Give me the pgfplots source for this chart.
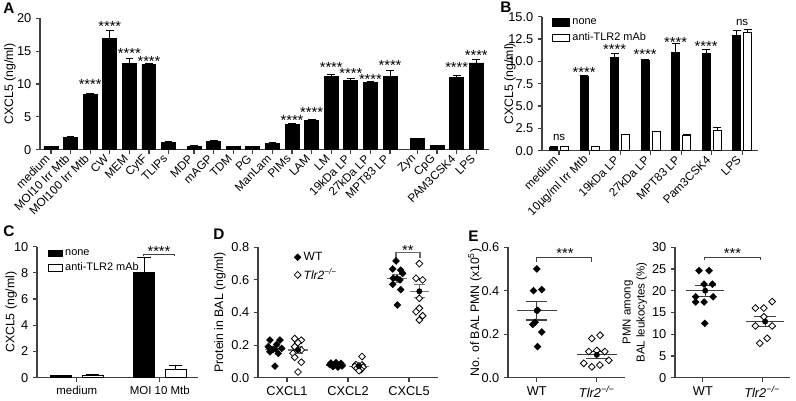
\documentclass[border=0pt]{standalone}
\usepackage{fontspec}
\setmainfont{Liberation Sans}
\usepackage{pgfplots}
\pgfplotsset{compat=1.18}

\definecolor{axgray}{gray}{0.25}
\newcommand{\tlr}{\textit{Tlr2}\textsuperscript{\textit{−/−}}}

\pgfplotsset{
  prism/.style={
    scale only axis, anchor=south west, clip=false,
    axis lines*=left,
    axis line style={-, line width=0.9pt, draw=axgray},
    every tick/.style={line width=0.9pt, draw=axgray},
    tick align=outside, major tick length=3pt,
    /pgf/number format/assume math mode=true,
    ticklabel style={font=\fontsize{9.6}{10}\selectfont, text=black},
    ylabel style={font=\fontsize{9.2}{11}\selectfont, anchor=center},
    legend cell align=left,
  },
  onedec/.style={y tick label style={/pgf/number format/.cd, fixed, fixed zerofill, precision=1, /tikz/.cd}},
  bars/.style={ybar, bar shift=0pt, draw=black, line width=0.7pt,
    error bars/y dir=plus, error bars/y explicit,
    error bars/error bar style={line width=0.7pt, black, solid},
    error bars/error mark options={rotate=90, mark size=#1, line width=0.7pt, black}},
  swB/.style={legend image code/.code={\draw[##1, line width=0.6pt] (0pt,-2.9pt) rectangle (12.75pt,2.9pt);}},
  swC/.style={legend image code/.code={\draw[##1, line width=0.6pt] (0pt,-2.4pt) rectangle (10.5pt,2.4pt);}},
  wt/.style={only marks, mark=square*, mark size=1.8pt, mark options={rotate=45, fill=black, draw=black, line width=0.4pt}},
  ko/.style={only marks, mark=square*, mark size=1.8pt, mark options={rotate=45, fill=white, draw=black, line width=0.6pt}},
  meanln/.style={draw=#1, line width=0.9pt},
  sem/.style 2 args={only marks, mark=none, forget plot,
    error bars/y dir=both, error bars/y explicit,
    error bars/error bar style={line width=0.9pt, #2, solid},
    error bars/error mark options={rotate=90, mark size=#1, line width=0.9pt, #2}},
}
\tikzset{
  sig/.style={font=\fontsize{11}{11}\selectfont, anchor=base, yshift=-6.2pt, inner sep=0pt},
  ns/.style={font=\fontsize{8.6}{9}\selectfont, anchor=base, inner sep=0pt},
  brk/.style={line width=0.8pt, draw=#1},
  plab/.style={font=\fontsize{11.5}{12}\bfseries\selectfont, anchor=base west, inner sep=0pt},
}

\begin{document}
\begin{tikzpicture}
\path[use as bounding box] (0,0) rectangle (597pt,300pt);

% panel letters
\node[plab] at (2.25pt,289.9pt) {A};
\node[plab] at (375pt,290.25pt) {B};
\node[plab] at (2.25pt,122.6pt) {C};
\node[plab] at (159.75pt,120pt) {D};
\node[plab] at (351pt,118.5pt) {E};

% ---------------- A ----------------
\begin{axis}[prism, at={(30pt,187.725pt)}, width=336.75pt, height=98.55pt,
  xmin=-0.56, xmax=22.35, ymin=0, ymax=20, ytick={0,5,...,20},
  xtick={0,1,2,3,4,5,6,7.3,8.3,9.3,10.3,11.3,12.3,13.3,14.3,15.3,16.3,17.3,18.7,19.7,20.7,21.7},
  xticklabels={medium,MOI10 Irr Mtb,MOI100 Irr Mtb,CW,MEM,CytF,TLIPs,MDP,mAGP,TDM,PG,ManLam,PIMs,LAM,LM,19kDa LP,27kDa LP,MPT83 LP,Zyn,CpG,PAM3CSK4,LPS},
  xticklabel style={rotate=45, anchor=east, font=\fontsize{8.8}{9}\selectfont},
  ylabel={CXCL5 (ng/ml)}, ylabel style={at={(axis description cs:-0.067,0.5)}},
  bar width=0.714]
\addplot[fill=black, bars=2.9pt] table[x=x, y=y, y error=e] {
x y e
0 0.5 0.05
1 1.8 0.15
2 8.4 0.1
3 16.9 1.2
4 13.1 0.8
5 12.9 0.2
6 1.15 0.05
7.3 0.55 0.05
8.3 1.3 0.1
9.3 0.5 0.05
10.3 0.45 0.05
11.3 1.0 0.05
12.3 3.9 0.15
13.3 4.4 0.15
14.3 11.2 0.3
15.3 10.6 0.3
16.3 10.2 0.15
17.3 11.2 0.9
18.7 1.65 0.1
19.7 0.6 0.05
20.7 11.0 0.3
21.7 13.2 0.5
};
\node[sig] at (axis cs:2,10.35) {****};
\node[sig] at (axis cs:3,19.3) {****};
\node[sig] at (axis cs:4,15.2) {****};
\node[sig] at (axis cs:5,13.9) {****};
\node[sig] at (axis cs:12.3,5.0) {****};
\node[sig] at (axis cs:13.3,6.15) {****};
\node[sig] at (axis cs:14.3,13.0) {****};
\node[sig] at (axis cs:15.3,12.1) {****};
\node[sig] at (axis cs:16.3,11.2) {****};
\node[sig] at (axis cs:17.3,13.3) {****};
\node[sig] at (axis cs:20.7,13.0) {****};
\node[sig] at (axis cs:21.7,14.8) {****};
\end{axis}

% ---------------- B ----------------
\begin{axis}[prism, onedec, at={(406.5pt,186.975pt)}, width=162pt, height=100.5pt,
  xmin=-0.56, xmax=6.52, ymin=0, ymax=15, ytick={0,2.5,...,15},
  xtick={0,1,2,3,4,5,6},
  xticklabels={medium,10µg/ml Irr Mtb,19kDa LP,27kDa LP,MPT83 LP,Pam3CSK4,LPS},
  xticklabel style={rotate=45, anchor=east, font=\fontsize{8.8}{9}\selectfont},
  ylabel={CXCL5 (ng/ml)}, ylabel style={at={(axis description cs:-0.148,0.5)}},
  bar width=0.26,
  legend style={at={(axis description cs:0.045,1.01)}, anchor=north west, draw=none, fill=none,
    font=\fontsize{8.2}{9}\selectfont, row sep=1pt, inner sep=0pt}]
\addplot[fill=black, swB, bars=3pt] table[x=x, y=y, y error=e] {
x y e
-0.18 0.4 0.03
0.82 8.3 0.1
1.82 10.4 0.5
2.82 10.05 0.2
3.82 11.0 1.0
4.82 10.9 0.45
5.82 12.9 0.6
};
\addlegendentry{none}
\addplot[fill=white, swB, bars=3pt] table[x=x, y=y, y error=e] {
x y e
0.18 0.5 0.02
1.18 0.5 0.02
2.18 1.8 0.05
3.18 2.1 0.08
4.18 1.7 0.15
5.18 2.3 0.3
6.18 13.25 0.35
};
\addlegendentry{anti-TLR2 mAb}
\node[ns] at (axis cs:0,1.09) {ns};
\node[ns] at (axis cs:6,14.0) {ns};
\node[sig] at (axis cs:0.82,9.15) {****};
\node[sig] at (axis cs:1.82,11.65) {****};
\node[sig] at (axis cs:2.82,11.1) {****};
\node[sig] at (axis cs:3.82,12.5) {****};
\node[sig] at (axis cs:4.82,12.0) {****};
\end{axis}

% ---------------- C ----------------
\begin{axis}[prism, at={(27.75pt,16.725pt)}, width=120.75pt, height=98.3pt,
  xmin=-0.48, xmax=1.46, ymin=0, ymax=10, ytick={0,2,...,10},
  xtick={0,1}, xticklabels={medium,MOI 10 Mtb},
  xticklabel style={font=\fontsize{8.6}{9}\selectfont},
  ylabel={CXCL5 (ng/ml)}, ylabel style={at={(axis description cs:-0.161,0.5)}},
  bar width=0.253,
  legend style={at={(axis description cs:0.065,1.0)}, anchor=north west, draw=none, fill=none,
    font=\fontsize{8.2}{9}\selectfont, row sep=0pt, inner sep=0pt}]
\addplot[fill=black, swC, bars=5pt] table[x=x, y=y, y error=e] {
x y e
-0.19 0.15 0.02
0.81 8.0 1.2
};
\addlegendentry{none}
\addplot[fill=white, swC, bars=5pt] table[x=x, y=y, y error=e] {
x y e
0.19 0.15 0.06
1.19 0.65 0.3
};
\addlegendentry{anti-TLR2 mAb}
\draw[brk=axgray] (axis cs:0.80,9.25) |- (axis cs:1.18,9.43) -- (axis cs:1.18,9.25);
\node[sig] at (axis cs:0.99,9.86) {****};
\end{axis}

% ---------------- D ----------------
\begin{axis}[prism, onedec, at={(193.5pt,16.725pt)}, width=135pt, height=97.8pt,
  xmin=-0.475, xmax=2.475, ymin=0, ymax=0.8, ytick={0,0.2,...,0.8},
  xtick={0,1,2}, xticklabels={CXCL1,CXCL2,CXCL5},
  ylabel={Protein in BAL (ng/ml)}, ylabel style={at={(axis description cs:-0.211,0.5)}},
  legend style={at={(axis description cs:0.2,0.985)}, anchor=north west, draw=none, fill=none,
    font=\fontsize{9}{10}\selectfont, row sep=0.5pt, inner sep=0pt}]
\addplot[wt] table {
x y
-0.279 0.231
-0.115 0.231
-0.307 0.190
-0.169 0.204
-0.225 0.174
-0.087 0.180
-0.279 0.159
-0.143 0.149
-0.197 0.071
0.721 0.090
0.803 0.092
0.885 0.088
0.703 0.080
0.770 0.078
0.853 0.076
0.903 0.072
0.753 0.068
0.836 0.065
1.787 0.716
1.733 0.667
1.864 0.660
1.896 0.640
1.742 0.610
1.852 0.600
1.733 0.573
1.864 0.540
1.808 0.446
};
\addlegendentry{WT}
\addplot[ko] table {
x y
0.126 0.240
0.234 0.230
0.180 0.215
0.126 0.190
0.234 0.170
0.098 0.150
0.126 0.125
0.234 0.095
0.180 0.035
1.230 0.130
1.130 0.080
1.230 0.078
1.180 0.072
1.114 0.068
1.246 0.065
1.147 0.058
1.213 0.050
1.180 0.043
2.169 0.700
2.115 0.610
2.223 0.600
2.169 0.487
2.169 0.426
2.115 0.405
2.223 0.380
2.169 0.354
};
\addlegendentry{\tlr}
\addplot[meanln=black!55, forget plot] coordinates {(-0.357,0.175) (-0.037,0.175)};
\addplot[meanln=black!55, forget plot] coordinates {(0.02,0.17) (0.34,0.17)};
\addplot[meanln=black!55, forget plot] coordinates {(0.643,0.078) (0.963,0.078)};
\addplot[meanln=black!55, forget plot] coordinates {(1.02,0.07) (1.34,0.07)};
\addplot[meanln=black!55, forget plot] coordinates {(1.643,0.61) (1.963,0.61)};
\addplot[meanln=black!55, forget plot] coordinates {(2.009,0.53) (2.329,0.53)};
\addplot[sem={4pt}{black!55}] coordinates {
(-0.197,0.175) +- (0,0.015)
(0.18,0.17) +- (0,0.02)
(0.803,0.078) +- (0,0.004)
(1.18,0.07) +- (0,0.008)
(1.803,0.61) +- (0,0.025)
(2.169,0.53) +- (0,0.04)
};
\draw[brk=black!60] (axis cs:1.787,0.735) |- (axis cs:2.18,0.77) -- (axis cs:2.18,0.735);
\node[sig] at (axis cs:1.98,0.80) {**};
\end{axis}

% ---------------- E (left) ----------------
\begin{axis}[prism, onedec, at={(381pt,16.725pt)}, width=87.75pt, height=97.9pt,
  xmin=-0.48, xmax=1.47, ymin=0, ymax=0.6, ytick={0,0.2,0.4,0.6},
  xtick={0,1}, xticklabels={WT,\tlr},
  ylabel={No. of BAL PMN (x10\textsuperscript{5})}, ylabel style={at={(axis description cs:-0.282,0.5)}}]
\addplot[wt] table {
x y
0.000 0.500
-0.055 0.400
0.083 0.405
0.012 0.310
-0.028 0.255
-0.067 0.245
0.083 0.210
0.012 0.143
};
\addplot[ko] table {
x y
0.917 0.180
1.055 0.195
0.867 0.120
1.000 0.125
1.133 0.120
0.783 0.066
0.917 0.050
1.050 0.058
1.200 0.080
};
\addplot[meanln=black!75] coordinates {(-0.33,0.308) (0.33,0.308)};
\addplot[meanln=black!75] coordinates {(0.67,0.105) (1.33,0.105)};
\addplot[sem={8pt}{black!75}] coordinates {
(0,0.308) +- (0,0.043)
(1,0.105) +- (0,0.016)
};
\draw[brk=axgray] (axis cs:0,0.533) |- (axis cs:0.91,0.553) -- (axis cs:0.91,0.533);
\node[sig] at (axis cs:0.47,0.587) {***};
\end{axis}

% ---------------- E (right) ----------------
\begin{axis}[prism, at={(506.25pt,16.725pt)}, width=86.25pt, height=97.9pt,
  xmin=-0.47, xmax=1.47, ymin=0, ymax=30, ytick={0,5,...,30},
  xtick={0,1}, xticklabels={WT,\tlr},
  ylabel={PMN among\\BAL leukocytes (\%)},
  ylabel style={at={(axis description cs:-0.348,0.5)}, align=center, font=\fontsize{8.6}{10.5}\selectfont}]
\addplot[wt] table {
x y
-0.065 24.6
0.105 24.6
0.020 21.5
0.161 21.5
-0.121 18.6
0.173 18.6
-0.121 17.4
0.020 17.4
0.032 12.5
};
\addplot[ko] table {
x y
1.169 17.5
0.887 16.0
1.029 16.0
1.029 14.0
0.887 11.9
1.169 11.9
1.085 9.05
0.961 7.9
};
\addplot[meanln=black!75] coordinates {(-0.28,20.0) (0.36,20.0)};
\addplot[meanln=black!75] coordinates {(0.73,12.9) (1.37,12.9)};
\addplot[sem={8pt}{black!75}] coordinates {
(0.04,20.0) +- (0,1.25)
(1.05,12.9) +- (0,1.15)
};
\draw[brk=axgray] (axis cs:0.02,27.05) |- (axis cs:0.97,27.7) -- (axis cs:0.97,27.05);
\node[sig] at (axis cs:0.5,29.35) {***};
\end{axis}
\end{tikzpicture}
\end{document}
